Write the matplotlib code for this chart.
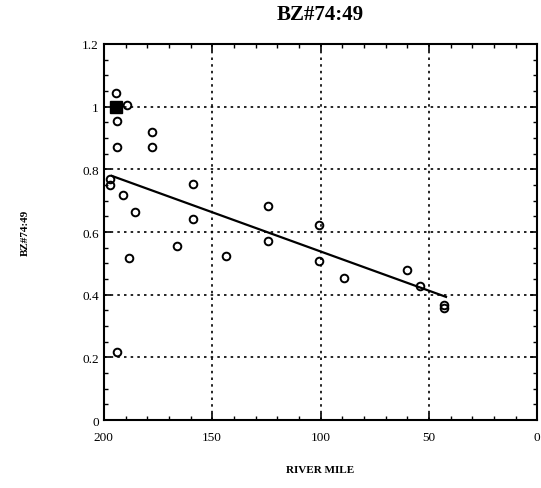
import matplotlib.pyplot as plt
from matplotlib.ticker import MultipleLocator

# observed points (river mile, value)
mile = [194.4, 189.4, 194, 194, 177.8, 177.8, 197, 197, 191.2, 185.6,
        158.8, 158.8, 124.1, 188.4, 166.2, 143.5, 124.1, 194,
        100.5, 100.5, 89.4, 60.2, 54.2, 43.1, 43.1]
val = [1.044, 1.005, 0.955, 0.871, 0.919, 0.871, 0.769, 0.750, 0.718, 0.664,
       0.753, 0.640, 0.683, 0.517, 0.555, 0.523, 0.571, 0.217,
       0.622, 0.508, 0.453, 0.479, 0.428, 0.367, 0.357]

# highlighted sample
sq_mile = [194.5]
sq_val = [1.0]

# regression line
fit_mile = [196.3, 42.1]
fit_val = [0.779, 0.393]

plt.rcParams['font.family'] = ['Liberation Serif', 'DejaVu Serif']

fig = plt.figure(figsize=(5.41, 4.89), dpi=100)
ax = fig.add_axes([0.192, 0.139, 0.801, 0.769])

ax.plot(mile, val, 'o', mfc='none', mec='black', ms=5.5, mew=1.4)
ax.plot(sq_mile, sq_val, 's', color='black', ms=9)
ax.plot(fit_mile, fit_val, '-', color='black', lw=1.6)

ax.set_xlim(200, 0)
ax.set_ylim(0, 1.2)
ax.xaxis.set_major_locator(MultipleLocator(50))
ax.xaxis.set_minor_locator(MultipleLocator(10))
ax.yaxis.set_major_locator(MultipleLocator(0.2))
ax.yaxis.set_minor_locator(MultipleLocator(0.05))
ax.xaxis.set_major_formatter(plt.FuncFormatter(lambda v, p: '%d' % v))
ax.yaxis.set_major_formatter(plt.FuncFormatter(lambda v, p: '%g' % round(v, 1)))

ax.tick_params(which='both', direction='in', top=True, right=True, labelsize=9.5)
ax.tick_params(which='major', length=5, width=1.2)
ax.tick_params(which='minor', length=3, width=1)
ax.tick_params(axis='x', pad=8)
ax.grid(True, which='major', linestyle=(0, (1.5, 2.5)), color='black', lw=1.2)
for s in ax.spines.values():
    s.set_linewidth(1.5)

ax.set_title('BZ#74:49', fontsize=15, fontweight='bold', pad=18)
ax.set_xlabel('RIVER MILE', fontsize=8, fontweight='bold', labelpad=16)
ax.set_ylabel('BZ#74:49', fontsize=8, fontweight='bold', labelpad=38)

fig.savefig('out.png', dpi=100)
